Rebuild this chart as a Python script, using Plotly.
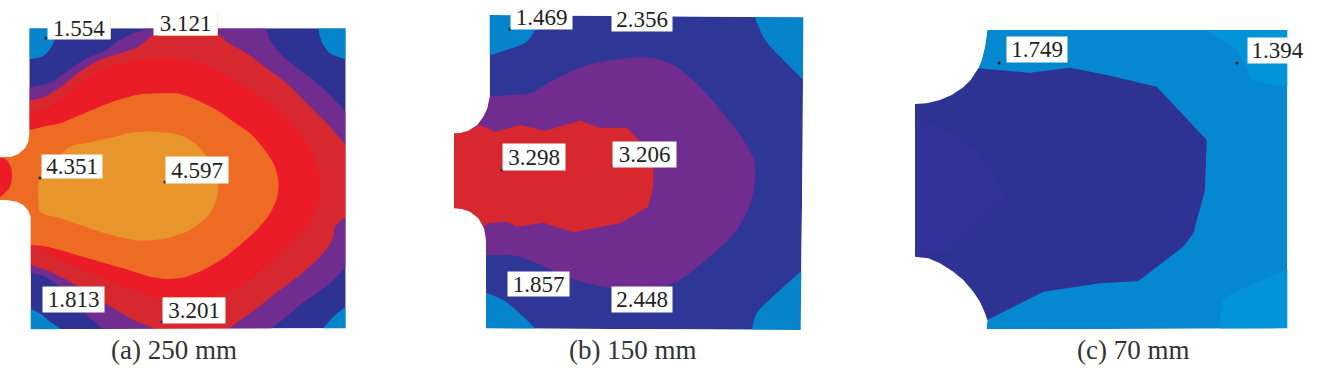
import plotly.graph_objects as go

# Colours of the contour bands
CYAN = "#0583CB"
NAVY = "#2E3292"
NAVY_B = "#2E3696"
PURPLE = "#702C8E"
DKRED = "#D7282F"
RED = "#EB1C27"
ORANGE = "#EE6B24"
AMBER = "#E8952B"
BAND_C = "#0588CF"
LIGHT_C = "#0393D7"
TINT_C = "#33319A"

# Panel (a): contour outlines (x, y in thirds of a pixel).
# Bands run a little past the plate; the plate outline trims them.
A_OUTLINE = [(88,85),(1037,85),(1037,985),(92,988),(92,650),(85,632),(70,615),(50,605),(25,601),(0,600),(-10,600),
             (-10,472),(0,472),(35,470),(55,462),(75,445),(85,425),(88,400)]
A_CYAN_TL = [(60,60),(60,180),(88,178),(130,168),(155,140),(165,115),(168,85),(168,60)]
A_CYAN_TR = [(955,60),(955,85),(965,125),(990,160),(1037,178),(1060,182),(1060,60)]
A_CYAN_BL = [(60,915),(92,928),(120,940),(150,965),(180,985),(190,998),(60,998)]
A_CYAN_BR = [(960,998),(970,985),(1000,950),(1037,920),(1060,905),(1060,998)]
A_PURPLE = [(60,268),(88,262),(150,248),(200,215),(260,175),(320,150),(350,125),(400,100),(440,85),(460,60),(790,60),(798,85),(810,120),(850,170),
            (920,225),(980,275),(1037,335),(1060,360),(1060,780),(1037,800),(1000,840),(950,880),(900,915),(860,950),(815,985),(805,998),
            (315,998),(305,985),(260,945),(190,870),(130,828),(92,820),(60,815)]
A_DKRED = [(60,308),(88,302),(130,292),(180,262),(240,215),(300,180),(360,160),(415,140),(440,120),(470,100),(560,96),(650,100),(680,125),(740,160),
           (800,205),(860,250),(920,310),(980,370),(1037,435),(1060,460),(1060,630),(1037,650),(1005,680),(1000,710),(985,740),(950,780),(900,825),
           (840,870),(770,925),(690,985),(680,998),(470,998),(460,985),(400,960),(340,925),(270,880),(200,840),(150,815),(92,795),(60,785)]
A_RED = [(60,348),(88,340),(140,325),(190,290),(240,250),(290,215),(350,195),(420,180),(480,175),(550,180),(620,195),(690,235),(750,270),(810,310),
         (870,365),(920,430),(945,480),(958,530),(958,600),(935,660),(890,710),(840,760),(780,815),(720,860),(660,885),(600,900),(530,905),(470,895),
         (400,870),(300,830),(200,790),(140,755),(92,735),(60,730)]
A_ORANGE = [(60,395),(88,390),(130,380),(180,370),(240,345),(300,320),(360,298),(410,285),(470,280),(530,280),(590,300),(650,330),(700,365),(750,400),
            (790,445),(820,490),(835,540),(832,590),(810,640),(770,690),(720,735),(670,775),(620,805),(560,830),(510,837),(450,830),(370,805),(300,785),
            (240,768),(180,750),(130,738),(92,735),(60,730),(-10,690),(-10,400)]
A_AMBER = [(115,600),(120,635),(180,655),(240,675),(300,695),(360,712),(420,722),(500,715),(570,690),(630,640),(655,570),(640,500),(590,435),(540,405),
           (470,395),(400,397),(340,412),(280,425),(210,440),(160,490),(120,530)]
A_STUB = [(-10,472),(18,478),(35,510),(30,560),(-10,595)]

# Panel (b)
B_OUTLINE = [(149,45),(600,48),(1090,52),(1088,430),(1082,990),(138,985),(138,720),(132,685),(115,655),(90,635),(65,627),(42,625),
             (42,400),(60,399),(85,392),(112,375),(130,350),(142,325),(149,290)]
B_CYAN_TL = [(120,20),(120,168),(150,165),(200,150),(260,125),(285,90),(295,45),(295,20)]
B_CYAN_TR = [(940,25),(945,52),(975,120),(1030,180),(1090,240),(1115,265),(1115,25)]
B_CYAN_BL = [(110,870),(138,878),(190,900),(250,950),(285,985),(295,1000),(110,1000)]
B_CYAN_BR = [(1110,795),(1082,815),(1020,870),(950,940),(935,990),(932,1000),(1110,1000)]
B_PURPLE = [(120,293),(149,290),(200,285),(270,280),(340,240),(440,195),(520,180),(620,172),(700,195),(780,260),(850,340),(910,420),(945,490),(935,600),
            (890,690),(810,770),(700,850),(600,870),(500,862),(390,835),(290,790),(230,768),(138,765),(110,765),(20,650),(20,380)]
B_RED = [(20,398),(42,398),(100,385),(120,375),(165,395),(240,375),(315,392),(420,362),(480,383),(560,383),(600,425),(640,500),(640,560),(625,620),
         (540,670),(400,697),(310,668),(230,680),(200,665),(145,670),(130,680),(90,635),(42,625),(20,625)]

# Panel (c)
C_OUTLINE = [(262,90),(1162,90),(1162,985),(260,988),(262,960),(255,940),(240,905),(220,875),(190,840),(160,815),(120,790),(85,775),(45,770),
             (45,312),(80,310),(120,300),(155,285),(190,262),(212,240),(235,205),(245,180),(255,140)]
C_LIGHT_T = [(915,60),(920,90),(1010,150),(1060,240),(1162,260),(1190,262),(1190,60)]
C_LIGHT_B = [(955,1000),(960,985),(970,900),(1040,860),(1162,810),(1190,800),(1190,1000)]
C_NAVY = [(235,205),(300,210),(390,218),(510,203),(620,225),(770,260),(850,345),(920,420),(915,570),(880,700),(850,740),(715,843),(600,850),
          (430,875),(262,960),(200,1000),(20,800),(20,280),(200,180)]
C_TINT = [(30,350),(140,390),(230,450),(320,585),(150,750),(30,770)]

# Data labels
A_LABELS = ["1.554", "3.121", "4.351", "4.597", "1.813", "3.201"]
B_LABELS = ["1.469", "2.356", "3.298", "3.206", "1.857", "2.448"]
C_LABELS = ["1.749", "1.394"]
CAPTIONS = ["(a) 250 mm", "(b) 150 mm", "(c) 70 mm"]

# Label boxes: x0, x1, y0, y1 in picture pixels
A_BOXES = [(48,110,17,39),(154,217,12,35),(42,102,155,178),(166,228,157,183),(43,104,287,312),(163,225,298,323)]
B_BOXES = [(511,572,5,29),(612,672,8,31),(503,565,144,170),(613,676,142,167),(508,569,272,296),(612,672,287,312)]
C_BOXES = [(1007,1067,37,62),(1248,1307,38,63)]
DOTS_X = [46,158,40,165,162,510,502,613,999,1237]
DOTS_Y = [38,34,178,182,322,29,170,166,63,63]

PANEL_A, PANEL_B, PANEL_C = 0, 440, 900

fig = go.Figure()

def band(points, origin, color, smooth=True):
    xs = [origin + p[0] / 3 for p in points]
    ys = [p[1] / 3 for p in points]
    fig.add_trace(go.Scatter(
        x=xs + xs[:1], y=ys + ys[:1], mode="lines", fill="toself", fillcolor=color,
        line=dict(width=0, color=color, shape="spline" if smooth else "linear", smoothing=0.8),
        hoverinfo="skip", showlegend=False))

def trim(outline, origin, right):
    """White sheet with a plate-shaped hole: clips every band to its plate."""
    x0, x1 = origin - 6, origin + right / 3
    y0, y1 = -6, 342
    path = f"M{x0},{y0}L{x1},{y0}L{x1},{y1}L{x0},{y1}Z M"
    path += "L".join(f"{origin + x / 3:.2f},{y / 3:.2f}" for x, y in outline) + "Z"
    return dict(type="path", path=path, fillcolor="white", fillrule="evenodd",
                line=dict(width=0), layer="above", xref="x", yref="y")

for pts, col, sm in [(A_OUTLINE, NAVY, False), (A_CYAN_TL, CYAN, True), (A_CYAN_TR, CYAN, True),
                     (A_CYAN_BL, CYAN, True), (A_CYAN_BR, CYAN, True), (A_PURPLE, PURPLE, True),
                     (A_DKRED, DKRED, True), (A_RED, RED, True), (A_ORANGE, ORANGE, True),
                     (A_AMBER, AMBER, True), (A_STUB, RED, True)]:
    band(pts, PANEL_A, col, sm)

for pts, col, sm in [(B_OUTLINE, NAVY_B, False), (B_CYAN_TL, CYAN, True), (B_CYAN_TR, CYAN, True),
                     (B_CYAN_BL, CYAN, True), (B_CYAN_BR, CYAN, True), (B_PURPLE, PURPLE, True),
                     (B_RED, DKRED, False)]:
    band(pts, PANEL_B, col, sm)

for pts, col, sm in [(C_OUTLINE, BAND_C, False), (C_LIGHT_T, LIGHT_C, True), (C_LIGHT_B, LIGHT_C, True),
                     (C_NAVY, NAVY, False), (C_TINT, TINT_C, False)]:
    band(pts, PANEL_C, col, sm)

annotations = []
for texts, boxes in [(A_LABELS, A_BOXES), (B_LABELS, B_BOXES), (C_LABELS, C_BOXES)]:
    for t, (x0, x1, y0, y1) in zip(texts, boxes):
        annotations.append(dict(
            x=(x0 + x1) / 2, y=(y0 + y1) / 2, text=t, showarrow=False, xanchor="center", yanchor="middle",
            width=x1 - x0, height=y1 - y0, bgcolor="white", borderpad=0, align="center",
            font=dict(family="Liberation Serif", size=23, color="#222222")))

for t, cx in zip(CAPTIONS, [174, 633, 1133]):
    annotations.append(dict(
        x=cx, y=350, text=t, showarrow=False, xanchor="center", yanchor="middle", borderpad=0,
        font=dict(family="Liberation Serif", size=27, color="#333333")))

fig.add_trace(go.Scatter(x=DOTS_X, y=DOTS_Y, mode="markers",
                         marker=dict(size=3, color="#222222"), hoverinfo="skip", showlegend=False))

shapes = [
    trim(A_OUTLINE, PANEL_A, 1150),
    trim(B_OUTLINE, PANEL_B, 1150),
    trim(C_OUTLINE, PANEL_C, 1250),
    dict(type="line", x0=110, x1=110, y0=17, y1=39, line=dict(color="#F2D64B", width=1.5)),
    dict(type="line", x0=158, x1=217, y0=35, y1=35, line=dict(color="#E8B92E", width=1.5)),
    dict(type="line", x0=217, x1=217, y0=12, y1=35, line=dict(color="#F2D64B", width=1.5)),
    dict(type="line", x0=163, x1=225, y0=298, y1=298, line=dict(color="#F2D64B", width=1)),
]

fig.update_layout(
    width=1337, height=368, margin=dict(l=0, r=0, t=0, b=0),
    paper_bgcolor="white", plot_bgcolor="white", showlegend=False,
    xaxis=dict(range=[0, 1337], visible=False, fixedrange=True),
    yaxis=dict(range=[368, 0], visible=False, fixedrange=True),
    annotations=annotations, shapes=shapes)

fig.write_html("out.html", config=dict(displayModeBar=False),
               post_script="document.body.style.margin='0';")
